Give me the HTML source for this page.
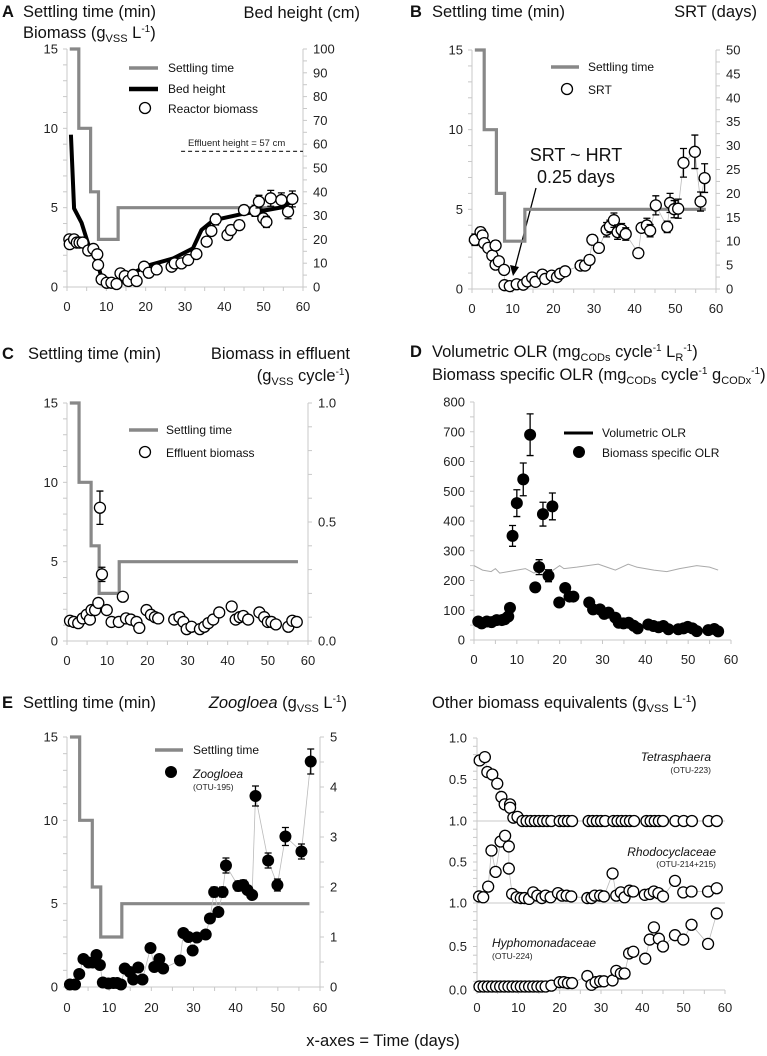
<!DOCTYPE html>
<html><head><meta charset="utf-8">
<style>
body{margin:0;background:#fff;}
svg{display:block;font-family:"Liberation Sans",Arial,sans-serif;}
.t{font-size:16.5px;fill:#111;}
.lg{font-size:12px;fill:#111;}
.sm{font-size:8.5px;fill:#222;}
</style></head>
<body>
<svg id="chart" width="767" height="1056" viewBox="0 0 767 1056">
<rect width="767" height="1056" fill="#fff"/>
<!-- Titles -->
<text x="2" y="17" class="t" font-weight="bold">A</text>
<text x="23" y="17" class="t">Settling time (min)</text>
<text x="23" y="38" class="t">Biomass (g<tspan font-size="11" dy="4">VSS</tspan><tspan dy="-4"> L</tspan><tspan font-size="10" dy="-6">-1</tspan><tspan dy="6">)</tspan></text>
<text x="360" y="18" class="t" text-anchor="end">Bed height (cm)</text>

<text x="410" y="17" class="t" font-weight="bold">B</text>
<text x="432" y="17" class="t">Settling time (min)</text>
<text x="757" y="17" class="t" text-anchor="end">SRT (days)</text>

<text x="2" y="359" class="t" font-weight="bold">C</text>
<text x="28" y="359" class="t">Settling time (min)</text>
<text x="350" y="359" class="t" text-anchor="end">Biomass in effluent</text>
<text x="350" y="381" class="t" text-anchor="end">(g<tspan font-size="11" dy="4">VSS</tspan><tspan dy="-4"> cycle</tspan><tspan font-size="10" dy="-6">-1</tspan><tspan dy="6">)</tspan></text>

<text x="410" y="357" class="t" font-weight="bold">D</text>
<text x="432" y="357" class="t">Volumetric OLR (mg<tspan font-size="11" dy="4">CODs</tspan><tspan dy="-4"> cycle</tspan><tspan font-size="10" dy="-6">-1</tspan><tspan dy="6"> L</tspan><tspan font-size="11" dy="4">R</tspan><tspan font-size="10" dy="-10">-1</tspan><tspan dy="6">)</tspan></text>
<text x="432" y="380" class="t">Biomass specific OLR (mg<tspan font-size="11" dy="4">CODs</tspan><tspan dy="-4"> cycle</tspan><tspan font-size="10" dy="-6">-1</tspan><tspan dy="6"> g</tspan><tspan font-size="11" dy="4">CODx</tspan><tspan font-size="10" dy="-10">-1</tspan><tspan dy="6">)</tspan></text>

<text x="2" y="708" class="t" font-weight="bold">E</text>
<text x="23" y="708" class="t">Settling time (min)</text>
<text x="347" y="708" class="t" text-anchor="end"><tspan font-style="italic">Zoogloea</tspan> (g<tspan font-size="11" dy="4">VSS</tspan><tspan dy="-4"> L</tspan><tspan font-size="10" dy="-6">-1</tspan><tspan dy="6">)</tspan></text>

<text x="432" y="708" class="t">Other biomass equivalents (g<tspan font-size="11" dy="4">VSS</tspan><tspan dy="-4"> L</tspan><tspan font-size="10" dy="-6">-1</tspan><tspan dy="6">)</tspan></text>

<text x="383" y="1046" class="t" text-anchor="middle">x-axes = Time (days)</text>

<!-- Legends -->
<g>
<line x1="129" y1="68" x2="158" y2="68" stroke="#888" stroke-width="3.5"/>
<text x="168" y="72" class="lg">Settling time</text>
<line x1="129" y1="89" x2="158" y2="89" stroke="#000" stroke-width="4.5"/>
<text x="168" y="93" class="lg">Bed height</text>
<circle cx="145" cy="108" r="5.5" fill="#fff" stroke="#000" stroke-width="1.3"/>
<text x="168" y="113" class="lg">Reactor biomass</text>
</g>
<text x="188" y="146" font-size="9.5" fill="#222">Effluent height = 57 cm</text>

<g>
<line x1="551" y1="67" x2="579" y2="67" stroke="#888" stroke-width="3.5"/>
<text x="588" y="71" class="lg">Settling time</text>
<circle cx="567" cy="89" r="5.5" fill="#fff" stroke="#000" stroke-width="1.3"/>
<text x="588" y="94" class="lg">SRT</text>
</g>
<text x="576" y="161" font-size="18" text-anchor="middle" fill="#111">SRT ~ HRT</text>
<text x="576" y="183" font-size="18" text-anchor="middle" fill="#111">0.25 days</text>
<g>
<line x1="536" y1="188" x2="515" y2="268" stroke="#000" stroke-width="1.3"/>
<polygon points="513,276 510,265 519,267" fill="#000"/>
</g>

<g>
<line x1="129" y1="430" x2="158" y2="430" stroke="#888" stroke-width="3.5"/>
<text x="166" y="434" class="lg">Settling time</text>
<circle cx="145" cy="452" r="5.5" fill="#fff" stroke="#000" stroke-width="1.3"/>
<text x="166" y="457" class="lg">Effluent biomass</text>
</g>

<g>
<line x1="564" y1="433" x2="593" y2="433" stroke="#000" stroke-width="3"/>
<text x="602" y="437" class="lg">Volumetric OLR</text>
<circle cx="579" cy="452" r="6" fill="#000"/>
<text x="602" y="457" class="lg">Biomass specific OLR</text>
</g>

<g>
<line x1="155" y1="750" x2="183" y2="750" stroke="#888" stroke-width="3.5"/>
<text x="193" y="754" class="lg">Settling time</text>
<circle cx="171" cy="772" r="6" fill="#000"/>
<text x="193" y="778" class="lg" font-style="italic">Zoogloea</text>
<text x="193" y="790" class="sm">(OTU-195)</text>
</g>

<g>
<text x="711" y="761" class="lg" font-style="italic" text-anchor="end">Tetrasphaera</text>
<text x="711" y="773" class="sm" text-anchor="end">(OTU-223)</text>
<text x="716" y="856" class="lg" font-style="italic" text-anchor="end">Rhodocyclaceae</text>
<text x="716" y="867" class="sm" text-anchor="end">(OTU-214+215)</text>
<text x="492" y="947" class="lg" font-style="italic">Hyphomonadaceae</text>
<text x="492" y="959" class="sm">(OTU-224)</text>
</g>
</svg>
<script>
// ---- data ----
const xTicks = [0,10,20,30,40,50,60];
const settleX = [0.7,3,6,8,13,57.5];
const settleY = [15,10,6,3,5];

const bioT = [0.6,0.7,1.8,2.5,3.2,4,5.4,6.7,7.7,7.9,8.8,10.1,11.3,12.6,13.6,14.7,15.6,16.8,17.7,19.6,20.8,22.8,26.6,27.4,29.1,30.8,32.9,35.5,36.7,37.8,40.8,41.7,43.8,45,47.8,48.8,49.9,50.7,51.8,54.5,56.2,57.3];
const bioV = [3.0,2.7,3.0,2.8,2.8,2.8,2.3,2.4,2.06,1.39,0.48,0.27,0.27,0.19,0.86,0.69,0.38,0.76,0.38,1.28,0.9,1.11,1.28,1.49,1.49,1.7,2.08,2.86,3.53,4.26,3.28,3.59,3.9,4.85,4.8,5.38,4.33,4.1,5.59,5.48,4.75,5.55];
const bioE = [0,0,0,0,0,0,0,0,0,0,0,0,0,0,0,0,0,0,0,0,0,0,0,0,0,0,0,0,0,0.35,0.3,0.3,0.3,0.3,0.35,0.4,0.3,0.35,0.5,0.45,0.45,0.5];
const bedT = [1,1.8,3.7,5.6,7.8,8.7,10,11.3,12.6,14,16.4,21,27,32,34.2,37.2,44,50.7,55.4,57.5];
const bedV = [64,33,27,17,10,4.3,2,0.8,0.4,2.5,5.7,9.2,12,16.2,24,28,30.5,32.3,33.7,38];
const effluentHeight = 57;

const srtT = [0.7,2.1,2.6,3,4,5,5.8,5.8,6.6,7.9,8,9.3,11,12.6,13.6,14.8,15.6,17.3,18,19.6,20.9,21.7,22.9,26.7,27.8,28.9,29.6,31.2,33.1,33.9,34.9,35.8,36.8,37.8,40.9,41.7,43,43.8,45.2,48,48.7,49.7,50.7,52,54.8,56.2,57.2];
const srtV = [10.3,11.9,11.2,9.6,8.6,7,9.1,5.1,5.8,4,0.8,0.6,1,0.9,1.6,2.4,1.5,3,2.1,2.8,2.5,3.2,3.7,4.9,4.9,6.1,10.3,8.6,12.4,13.1,14.4,11.9,12.4,11.5,7.5,12.8,13.3,12.2,17.5,13,18,16.7,16.8,26.4,28.7,18.3,23.2];
const srtE = [1.2,1,0,0,0,0,1,0,0,0,0,0,0,0,0,0,0,0,0,0,0,0,0,0,0,0,1,0,1.5,1.3,1.5,1.5,1.3,1.3,0,0,1.5,1.3,2,1.2,2,1.8,2,3,3.5,2,3];

const effT = [0.75,1.7,2.8,3.9,4.9,5.7,6.1,7,7.8,8.2,8.7,9.9,11.1,12.9,13.9,14.7,15.9,17.3,18,19.8,20.9,21.9,22.7,26.7,28,29,29.8,31,33.1,34.2,35.2,36.4,37.9,41,42,43,43.9,45.1,47.9,49.1,50,50.9,52,55.1,56.1,57.2];
const effV = [0.085,0.08,0.075,0.095,0.11,0.09,0.13,0.13,0.16,0.56,0.28,0.13,0.08,0.08,0.186,0.095,0.09,0.08,0.055,0.13,0.11,0.1,0.095,0.09,0.1,0.08,0.05,0.06,0.05,0.06,0.075,0.09,0.12,0.145,0.09,0.1,0.105,0.09,0.12,0.1,0.08,0.08,0.07,0.06,0.085,0.08];
const effE = [0,0,0,0,0,0,0,0,0,0.07,0.03,0,0,0,0.015,0,0,0,0,0,0,0,0,0,0,0,0,0,0,0,0,0,0,0,0,0,0,0,0,0,0,0,0,0,0,0];

const olrT = [1,1.8,3,4.1,5.3,6.5,7.2,8,8.4,9,10,11.5,13.1,14.3,15.2,16.1,17.4,18.3,19.9,21.3,22.3,23.2,26.9,27.8,29.4,30.4,31.4,33,33.8,34.9,36.1,37.3,38.2,40.7,41.9,43.1,44.2,45.4,47.7,48.9,49.9,51,52,54.7,56.1,57];
const olrV = [62,56,62,60,67,67,70,79,108,350,460,540,690,177,245,423,216,449,126,175,146,146,126,103,103,88,92,75,58,56,58,48,39,52,47,43,47,36,36,39,44,39,30,33,37,29];
const olrE = [0,0,0,0,0,0,0,0,0,35,45,55,70,0,25,40,20,45,0,0,0,0,0,0,0,0,0,0,0,0,0,0,0,0,0,0,0,0,0,0,0,0,0,0,0,0];
const volT = [0,2,4,5,6,8,10,12,14,16,18,20,21,24,29,31,33,36,38,42,45,48,52,55,57];
const volV = [250,235,230,240,225,230,235,240,225,240,230,250,240,245,255,245,235,255,245,235,230,240,250,245,235];

const zooT = [0.7,1.9,2.9,3.9,5.1,6.1,7,7.8,8.5,9.8,11,11.9,12.8,13.7,14.9,15.7,16.9,17.9,19.8,20.7,21.9,22.8,26.8,27.6,28.8,29.8,30.8,32.9,33.9,34.9,35.9,36.9,37.7,40.6,41.8,42.8,43.9,44.7,47.7,49.9,51.8,55.6,57.8];
const zooV = [0.05,0.05,0.26,0.56,0.49,0.49,0.64,0.44,0.09,0.07,0.08,0.08,0.05,0.37,0.3,0.15,0.39,0.15,0.78,0.4,0.56,0.37,0.53,1.08,1.0,0.73,0.99,1.05,1.37,1.9,1.5,1.9,2.43,2.02,2.04,1.94,1.84,3.82,2.53,2.04,3.01,2.71,4.51];
const zooE = [0,0,0,0,0,0,0,0,0,0,0,0,0,0,0,0,0,0,0,0,0,0,0,0,0,0,0,0,0,0.1,0,0.1,0.15,0.1,0.1,0,0,0.2,0.15,0.12,0.18,0.15,0.25];

const tetT = [0.65,1.9,2.5,3.7,4.9,5.9,6.7,8,8,8.8,9.8,11,12,13,14,15,16,17,18,20,21,22,23,27,28,29,30,31,33,34,35,36,37,38,41,42,43,44,45,48,50,52,56,58];
const tetV = [0.73,0.77,0.59,0.56,0.45,0.29,0.2,0.2,0.16,0.04,0.05,0,0,0,0,0,0,0,0,0,0,0,0,0,0,0,0,0,0,0,0,0,0,0,0,0,0,0,0,0,0,0,0,0];
const rhoT = [0.5,1.5,2.7,3.5,4.5,5.7,6.8,7.7,7.7,8.5,9.6,10.6,11.5,12.6,13.6,14.6,15.7,16.6,17.8,19.6,20.6,21.7,22.8,26.7,27.7,28.5,29.8,30.7,32.8,33.7,34.8,35.7,36.9,37.8,40.6,41.8,42.8,43.9,45,47.9,49.9,51.9,55.9,58];
const rhoV = [0.08,0.07,0.2,0.64,0.38,0.75,0.82,0.69,0.42,0.11,0.07,0.06,0.06,0.05,0.13,0.09,0.06,0.09,0.07,0.12,0.09,0.09,0.08,0.06,0.06,0.09,0.09,0.08,0.36,0.09,0.13,0.07,0.15,0.14,0.1,0.11,0.14,0.12,0.08,0.27,0.13,0.14,0.14,0.18];
const hypT = [0.6,1.6,2.6,3.6,4.6,5.6,6.6,7.6,8.6,9.6,10.6,11.6,12.6,13.6,14.6,15.6,16.6,18,20,21,22,23,26.7,27.7,28.7,29.8,30.7,32.8,33.7,34.8,35.7,36.8,37.8,40.7,41.8,42.8,44,45,47.9,49.9,51.9,55.9,58];
const hypV = [0.04,0.04,0.04,0.04,0.04,0.04,0.04,0.04,0.04,0.04,0.04,0.04,0.04,0.04,0.04,0.04,0.04,0.05,0.09,0.09,0.08,0.08,0.16,0.06,0.09,0.1,0.1,0.11,0.22,0.19,0.19,0.42,0.44,0.36,0.58,0.72,0.59,0.5,0.63,0.58,0.75,0.53,0.88];

const tickA_L = [0,5,10,15];
const tickA_R = [0,10,20,30,40,50,60,70,80,90,100];
const tickB_R = [0,5,10,15,20,25,30,35,40,45,50];
const tickC_R = ['0.0','0.5','1.0'];
const tickD_L = [0,100,200,300,400,500,600,700,800];
const tickE_R = [0,1,2,3,4,5];
const tickF_L = ['1.0','0.5','1.0','0.5','1.0','0.5','0.0'];

// ---- drawing ----
const NS = 'http://www.w3.org/2000/svg';
const svg = document.getElementById('chart');
function mk(tag, attrs, parent){
  const e = document.createElementNS(NS, tag);
  for (const k in attrs) e.setAttribute(k, attrs[k]);
  (parent || svg).appendChild(e);
  return e;
}
const AX = '#c8c8c8';
function scales(p, lmax, rmax){
  return {
    x: t => p.x0 + t/60*(p.x1-p.x0),
    yl: v => p.yb - v/lmax*(p.yb-p.yt),
    yr: v => p.yb - v/(rmax||1)*(p.yb-p.yt)
  };
}
function frame(name, p, s, lTicks, lMax, lMinor, rTicks, rMax, rMinor, xLabY){
  const g = mk('g', {});
  
  
  mk('line', {x1:p.x0, y1:p.yt, x2:p.x0, y2:p.yb, stroke:AX, 'stroke-width':1}, g);
  mk('line', {x1:p.x0, y1:p.yb, x2:p.x1, y2:p.yb, stroke:AX, 'stroke-width':1}, g);
  for (let v=0; v<=lMax+1e-9; v+=lMinor) mk('line', {x1:p.x0-4, y1:s.yl(v), x2:p.x0, y2:s.yl(v), stroke:AX}, g);
  lTicks.forEach(v => {
    const t = mk('text', {x:p.x0-9, y:s.yl(v)+4.5, 'font-size':13, 'text-anchor':'end', fill:'#222'}, g);
    t.textContent = v;
    
    
  });
  if (rTicks){
    mk('line', {x1:p.x1, y1:p.yt, x2:p.x1, y2:p.yb, stroke:AX, 'stroke-width':1}, g);
    for (let v=0; v<=rMax+1e-9; v+=rMinor) mk('line', {x1:p.x1, y1:s.yr(v), x2:p.x1+4, y2:s.yr(v), stroke:AX}, g);
    rTicks.forEach((lab,i) => {
      const v = typeof lab === 'string' ? parseFloat(lab) : lab;
      const t = mk('text', {x:p.x1+10, y:s.yr(v)+4.5, 'font-size':13, fill:'#222'}, g);
      t.textContent = lab;
      
      
    });
  }
  for (let v=0; v<=60; v+=5) mk('line', {x1:s.x(v), y1:p.yb, x2:s.x(v), y2:p.yb+4, stroke:AX}, g);
  xTicks.forEach(v => {
    const t = mk('text', {x:s.x(v), y:xLabY, 'font-size':13, 'text-anchor':'middle', fill:'#222'}, g);
    t.textContent = v;
    
    
  });
}
function settle(name, s){
  let d = 'M' + s.x(settleX[0]) + ' ' + s.yl(settleY[0]);
  for (let i=0; i<settleY.length; i++){
    d += ' H' + s.x(settleX[i+1]);
    if (i < settleY.length-1) d += ' V' + s.yl(settleY[i+1]);
  }
  const e = mk('path', {d:d, fill:'none', stroke:'#888', 'stroke-width':3.2});
  
  
}
function connect(name, T, V, sx, sy){
  const e = mk('polyline', {points:T.map((t,i)=>sx(t)+','+sy(V[i])).join(' '), fill:'none', stroke:'#bbb', 'stroke-width':0.8});
  
  
}
function points(name, T, V, E, sx, sy, filled){
  T.forEach((t,i) => {
    const cx = sx(t), cy = sy(V[i]);
    if (E && E[i] > 0){
      const y1 = sy(V[i]+E[i]), y2 = sy(V[i]-E[i]);
      const eb = mk('path', {d:'M'+cx+' '+y1+' V'+y2+' M'+(cx-3.5)+' '+y1+' H'+(cx+3.5)+' M'+(cx-3.5)+' '+y2+' H'+(cx+3.5), stroke:'#000', 'stroke-width':1.3, fill:'none'});
      
      
    }
    const c = mk('circle', {cx:cx, cy:cy, r:filled?6:5.5, fill:filled?'#000':'#fff', stroke:'#000', 'stroke-width':filled?0:1.3});
    
    
  });
}

// Panel A
const pA = {x0:67, x1:303, yt:49, yb:287};
const sA = scales(pA, 15, 100);
frame('panel-a', pA, sA, tickA_L, 15, 1, tickA_R, 100, 5, 311);
settle('panel-a', sA);
{
  const e = mk('line', {x1:sA.x(29), y1:sA.yr(effluentHeight), x2:pA.x1, y2:sA.yr(effluentHeight), stroke:'#333', 'stroke-width':1.2, 'stroke-dasharray':'4,3'});
  
  
}
{
  const e = mk('polyline', {points:bedT.map((t,i)=>sA.x(t)+','+sA.yr(bedV[i])).join(' '), fill:'none', stroke:'#000', 'stroke-width':4, 'stroke-linejoin':'round'});
  
  
}
points('reactor-biomass', bioT, bioV, bioE, sA.x, sA.yl, false);

// Panel B
const pB = {x0:472, x1:716, yt:50, yb:289};
const sB = scales(pB, 15, 50);
frame('panel-b', pB, sB, tickA_L, 15, 1, tickB_R, 50, 2.5, 313);
settle('panel-b', sB);
connect('srt-connector', srtT, srtV, sB.x, sB.yr);
points('srt', srtT, srtV, srtE, sB.x, sB.yr, false);

// Panel C
const pC = {x0:67, x1:308, yt:403, yb:641};
const sC = scales(pC, 15, 1);
frame('panel-c', pC, sC, tickA_L, 15, 1, tickC_R, 1, 0.1, 665);
settle('panel-c', sC);
points('effluent-biomass', effT, effV, effE, sC.x, sC.yr, false);

// Panel D
const pD = {x0:474, x1:731, yt:402, yb:640};
const sD = scales(pD, 800, 800);
frame('panel-d', pD, sD, tickD_L, 800, 50, null, 0, 0, 664);
{
  const e = mk('polyline', {points:volT.map((t,i)=>sD.x(t)+','+sD.yl(volV[i])).join(' '), fill:'none', stroke:'#aaa', 'stroke-width':1});
  
  
}
points('biomass-specific-olr', olrT, olrV, olrE, sD.x, sD.yl, true);

// Panel E
const pE = {x0:67, x1:320, yt:737, yb:987};
const sE = scales(pE, 15, 5);
frame('panel-e', pE, sE, tickA_L, 15, 1, tickE_R, 5, 0.5, 1012);
settle('panel-e', sE);
connect('zoogloea-connector', zooT, zooV, sE.x, sE.yr);
points('zoogloea', zooT, zooV, zooE, sE.x, sE.yr, true);

// Panel F
const pF = {x0:477, x1:725, yt:738, yb:990};
const sFx = t => pF.x0 + t/60*(pF.x1-pF.x0);
const subs = [{yt:738, yb:821}, {yt:821, yb:903}, {yt:903, yb:990}];
const subY = (k) => v => subs[k].yb - v*(subs[k].yb-subs[k].yt);
{
  const g = mk('g', {});
  
  
  mk('line', {x1:pF.x0, y1:pF.yt, x2:pF.x0, y2:pF.yb, stroke:AX}, g);
  subs.forEach(sb => {
    mk('line', {x1:pF.x0, y1:sb.yb, x2:pF.x1, y2:sb.yb, stroke:AX}, g);
    for (let v=0; v<=1.001; v+=0.1) mk('line', {x1:pF.x0-4, y1:sb.yb - v*(sb.yb-sb.yt), x2:pF.x0, y2:sb.yb - v*(sb.yb-sb.yt), stroke:AX}, g);
  });
  for (let v=0; v<=60; v+=5) mk('line', {x1:sFx(v), y1:pF.yb, x2:sFx(v), y2:pF.yb+4, stroke:AX}, g);
  const labPos = [[0,1],[0,0.5],[1,1],[1,0.5],[2,1],[2,0.5],[2,0]];
  tickF_L.forEach((lab,i) => {
    const t = mk('text', {x:pF.x0-10, y:subY(labPos[i][0])(labPos[i][1])+4.5, 'font-size':13, 'text-anchor':'end', fill:'#222'}, g);
    t.textContent = lab;
    
    
  });
  xTicks.forEach(v => {
    const t = mk('text', {x:sFx(v), y:1012, 'font-size':13, 'text-anchor':'middle', fill:'#222'}, g);
    t.textContent = v;
    
    
  });
}
connect('tetrasphaera-connector', tetT, tetV, sFx, subY(0));
points('tetrasphaera', tetT, tetV, null, sFx, subY(0), false);
connect('rhodocyclaceae-connector', rhoT, rhoV, sFx, subY(1));
points('rhodocyclaceae', rhoT, rhoV, null, sFx, subY(1), false);
connect('hyphomonadaceae-connector', hypT, hypV, sFx, subY(2));
points('hyphomonadaceae', hypT, hypV, null, sFx, subY(2), false);
</script>
</body></html>
